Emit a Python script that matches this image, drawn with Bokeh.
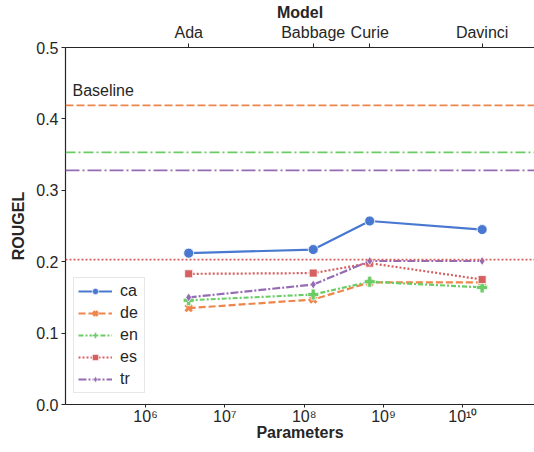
from bokeh.plotting import figure
from bokeh.models import (LogAxis, FixedTicker, CustomJSTickFormatter, Span, Label,
                          Legend, LegendItem, Range1d)
from bokeh.embed import file_html
from bokeh.resources import INLINE

# ---- data ----
models = ["Ada", "Babbage", "Curie", "Davinci"]
params = [3.5e6, 1.3e8, 6.7e8, 1.75e10]
langs = ["ca", "de", "en", "es", "tr"]
rouge_ca = [0.212, 0.217, 0.257, 0.245]
rouge_de = [0.135, 0.147, 0.171, 0.171]
rouge_en = [0.146, 0.154, 0.172, 0.164]
rouge_es = [0.183, 0.184, 0.198, 0.175]
rouge_tr = [0.150, 0.168, 0.201, 0.201]
baseline_langs = ["de", "en", "tr", "es"]
baseline_vals = [0.419, 0.353, 0.328, 0.203]
x_ticks = [1e6, 1e7, 1e8, 1e9, 1e10]
y_ticks = [0.0, 0.1, 0.2, 0.3, 0.4, 0.5]

series = {"ca": rouge_ca, "de": rouge_de, "en": rouge_en, "es": rouge_es, "tr": rouge_tr}
colors = {"ca": "#4878d0", "de": "#ee854a", "en": "#6acc64", "es": "#d65f5f", "tr": "#956cb4"}
dashes = {"ca": "solid", "de": "7 3", "en": "5 2 2 2", "es": "2 2", "tr": "8 2 2 2"}
base_dashes = {"de": "8 3", "en": "10 3 2 3", "tr": "14 3 2 3", "es": "2 2"}
markers = {"ca": "circle", "de": "x", "en": "plus", "es": "square", "tr": "diamond"}
msize = {"ca": 10, "de": 9, "en": 11, "es": 8, "tr": 9}

FONT = "Liberation Sans"
TXT = "#262626"

p = figure(width=534, height=444, x_axis_type="log", output_backend="svg",
           toolbar_location=None, x_range=Range1d(9.8e4, 8.0e10), y_range=Range1d(0, 0.5),
           min_border_left=65, min_border_right=0, min_border_top=39, min_border_bottom=40)
p.outline_line_color = None
p.grid.visible = False
p.background_fill_color = "white"

def style(ax):
    ax.axis_line_color = TXT
    ax.axis_line_width = 1.2
    ax.major_tick_line_color = TXT
    ax.major_tick_out = 4
    ax.major_tick_in = 0
    ax.minor_tick_line_color = None
    ax.major_label_text_font = FONT
    ax.major_label_text_font_size = "16px"
    ax.major_label_text_color = TXT
    ax.major_label_standoff = 3
    ax.axis_label_text_font = FONT
    ax.axis_label_text_font_size = "16px"
    ax.axis_label_text_font_style = "bold"
    ax.axis_label_text_color = TXT

style(p.xaxis[0])
style(p.yaxis[0])

p.xaxis.ticker = FixedTicker(ticks=x_ticks)
p.xaxis.formatter = CustomJSTickFormatter(code="""
const sup = {'0':'\u2070','1':'\u00b9','2':'\u00b2','3':'\u00b3','4':'\u2074','5':'\u2075','6':'\u2076','7':'\u2077','8':'\u2078','9':'\u2079'};
const e = String(Math.round(Math.log10(tick)));
return '10' + e.split('').map(c => sup[c]).join('');
""")
p.xaxis.axis_label = "Parameters"
p.xaxis.major_label_standoff = 0
p.xaxis.major_tick_out = 3
p.xaxis.axis_label_standoff = -4
p.yaxis.ticker = FixedTicker(ticks=y_ticks)
p.yaxis.formatter = CustomJSTickFormatter(code="return tick.toFixed(1);")
p.yaxis.axis_label = "ROUGEL"
p.yaxis.axis_label_standoff = 6

top = LogAxis(ticker=FixedTicker(ticks=params),
              formatter=CustomJSTickFormatter(args=dict(pvals=params, names=models), code="""
let best = 0, d = Infinity;
for (let i = 0; i < pvals.length; i++) { const dd = Math.abs(Math.log10(pvals[i]) - Math.log10(tick)); if (dd < d) { d = dd; best = i; } }
return names[best];
"""),
              axis_label="Model")
style(top)
top.axis_label_standoff = 0
p.add_layout(top, "above")

# baselines
for lang, val in zip(baseline_langs, baseline_vals):
    p.add_layout(Span(location=val, dimension="width", line_color=colors[lang],
                      line_width=1.8, line_dash=base_dashes[lang]))
p.add_layout(Label(x=1.2e5, y=baseline_vals[0] + 0.009, text="Baseline",
                   text_font=FONT, text_font_size="16px", text_color=TXT))

items = []
for lang in langs:
    ys = series[lang]
    r1 = p.line(params, ys, line_color=colors[lang], line_width=2.2, line_dash=dashes[lang])
    if markers[lang] == "x":
        r2 = p.scatter(params, ys, marker="x", size=msize[lang], line_color=colors[lang],
                       line_width=3)
    else:
        r2 = p.scatter(params, ys, marker=markers[lang], size=msize[lang],
                       fill_color=colors[lang], line_color="white", line_width=0.8)
    items.append(LegendItem(label=lang, renderers=[r1, r2]))

legend = Legend(items=items, location=(8, 11), label_text_font=FONT,
                label_text_font_size="16px", label_text_color=TXT,
                glyph_width=34, glyph_height=16, label_height=16, label_standoff=8,
                spacing=4, padding=4, margin=0,
                border_line_color="#d0d0d0", border_line_width=1,
                background_fill_alpha=0.9)
p.add_layout(legend, "center")

open("out.html", "w").write(file_html(p, INLINE))
